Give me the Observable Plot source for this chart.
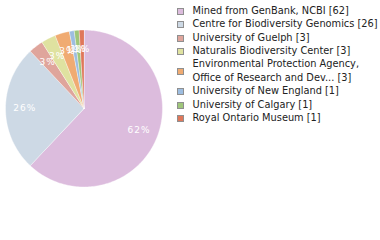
<!DOCTYPE html>
<html><head><meta charset="utf-8">
<script src="https://cdn.jsdelivr.net/npm/d3@7"></script>
<script src="https://cdn.jsdelivr.net/npm/@observablehq/plot@0.6"></script>
<style>
body{margin:0;background:#fff;}
#wrap{position:relative;width:380px;height:240px;overflow:hidden;background:#fff;}
#chart{position:absolute;left:0;top:0;}
#legend{position:absolute;left:176.5px;top:3.8px;font:9.8px "DejaVu Sans",sans-serif;color:#222;}
.row{display:flex;align-items:center;line-height:13.4px;white-space:nowrap;}
.sw{width:5px;height:5px;border:1px solid #8f8f8f;margin-right:9px;margin-top:2px;flex:none;}
#chart text{letter-spacing:1px;}
</style></head><body>
<div id="wrap"><div id="chart"></div><div id="legend"></div></div>
<script>
const categories = [
  "Mined from GenBank, NCBI",
  "Centre for Biodiversity Genomics",
  "University of Guelph",
  "Naturalis Biodiversity Center",
  "Environmental Protection Agency,\nOffice of Research and Dev...",
  "University of New England",
  "University of Calgary",
  "Royal Ontario Museum"
];
const counts = [62, 26, 3, 3, 3, 1, 1, 1];
const colors = ["#dcbcdd", "#cdd9e5", "#dfa59c", "#dfe2a0", "#f0ab72", "#9dbde0", "#9fc67a", "#df775a"];

const total = d3.sum(counts);
const data = categories.map((c, i) => ({category: c, count: counts[i], color: colors[i],
  pct: Math.round(counts[i] / total * 100) + "%"}));

const arcs = d3.pie().sort(null).value(d => d.count)(data);
const pt = (a, r) => [r * Math.sin(a), r * Math.cos(a)];
const slices = arcs.map(a => {
  const n = Math.max(2, Math.ceil((a.endAngle - a.startAngle) / 0.02));
  const ring = [[0, 0]];
  for (let k = 0; k <= n; k++) ring.push(pt(a.startAngle + (a.endAngle - a.startAngle) * k / n, 1));
  ring.push([0, 0]);
  return {type: "Feature", properties: a.data, geometry: {type: "Polygon", coordinates: [ring]}};
});
const circle = {type: "Polygon", coordinates: [d3.range(0, 361, 2).map(t => pt(t * Math.PI / 180, 1))]};
const labels = arcs.map(a => {
  const m = (a.startAngle + a.endAngle) / 2;
  const [x, y] = pt(m, 0.755);
  return {x, y, text: a.data.pct};
});

const chart = Plot.plot({
  width: 170, height: 240,
  marginLeft: 5, marginRight: 8, marginTop: 29.5, marginBottom: 53.5,
  projection: {type: "reflect-y", domain: circle},
  style: {fontFamily: "DejaVu Sans, sans-serif", background: "transparent"},
  marks: [
    Plot.geo(slices, {fill: d => d.properties.color, stroke: "white", strokeWidth: 0.4}),
    Plot.text(labels, {x: "x", y: "y", text: "text", fill: "white", fontSize: 9})
  ]
});
document.getElementById("chart").appendChild(chart);

const legend = document.getElementById("legend");
data.forEach(d => {
  const row = document.createElement("div");
  row.className = "row";
  const sw = document.createElement("div");
  sw.className = "sw";
  sw.style.background = d.color;
  const tx = document.createElement("div");
  tx.style.whiteSpace = "pre";
  tx.textContent = d.category + " [" + d.count + "]";
  row.appendChild(sw); row.appendChild(tx);
  legend.appendChild(row);
});
</script>
</body></html>
